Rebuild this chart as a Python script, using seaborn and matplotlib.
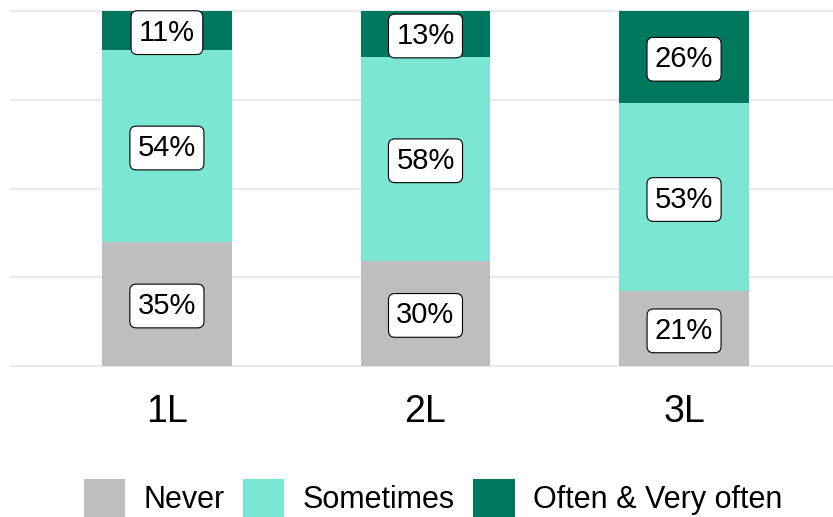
import matplotlib
matplotlib.use('Agg')
import matplotlib.pyplot as plt
from matplotlib.patches import Patch
import seaborn as sns
import numpy as np
import pandas as pd

sns.set_style('white')
plt.rcParams['font.family'] = ['Liberation Sans', 'DejaVu Sans']
plt.rcParams['text.color'] = 'black'
plt.rcParams['xtick.color'] = 'black'

# data (percent per level)
levels = ['1L', '2L', '3L']
never = [35, 30, 21]
sometimes = [54, 58, 53]
often = [11, 13, 26]
series = ['Never', 'Sometimes', 'Often & Very often']
colors = ['#BEBEBE', '#7BE6D3', '#00775F']

vals = np.array([never, sometimes, often], dtype=float)
shares = vals / vals.sum(axis=0)          # normalise each bar to 1
tops = np.cumsum(shares, axis=0)          # cumulative top of each segment
df = pd.DataFrame({'level': levels})

fig = plt.figure(figsize=(8.33, 5.17), dpi=100)
ax = fig.add_axes([11 / 833, 1 - 366 / 517, 1 - 11 / 833, 355 / 517])

# grid under the bars
for y in [0, 0.25, 0.5, 0.75, 1.0]:
    ax.axhline(y, color='#EBEBEB', lw=1.6, zorder=0, clip_on=False)
for x in range(len(levels)):
    ax.axvline(x, color='#EBEBEB', lw=1.6, zorder=0)

# stacked bars: draw cumulative totals from the top down
for i in range(len(series) - 1, -1, -1):
    df['h'] = tops[i]
    sns.barplot(data=df, x='level', y='h', color=colors[i], width=0.5,
                saturation=1, linewidth=0, ax=ax, zorder=2)

# percentage labels at the middle of each segment
for i in range(len(series)):
    for j in range(len(levels)):
        mid = tops[i, j] - shares[i, j] / 2
        ax.text(j, mid - 0.006, f'{int(vals[i, j])}%', ha='center', va='center',
                fontsize=21, color='black', zorder=3,
                bbox=dict(boxstyle='round,pad=0.27,rounding_size=0.22',
                          fc='white', ec='black', lw=0.8))

ax.set_xlim(-0.603, 2.576)
ax.set_ylim(0, 1)
ax.set_xlabel('')
ax.set_ylabel('')
ax.set_yticks([])
ax.tick_params(axis='x', length=0, pad=20, labelsize=27, labelcolor='black')
for s in ax.spines.values():
    s.set_visible(False)

handles = [Patch(facecolor=c, edgecolor='none', label=s) for c, s in zip(colors, series)]
fig.legend(handles=handles, loc='center', bbox_to_anchor=(0.52, 0.036), ncol=3,
           frameon=False, fontsize=22, handlelength=1.35, handleheight=1.6,
           handletextpad=0.6, columnspacing=0.6, borderpad=0, borderaxespad=0,
           labelcolor='black')

fig.savefig('out.png', dpi=100)
